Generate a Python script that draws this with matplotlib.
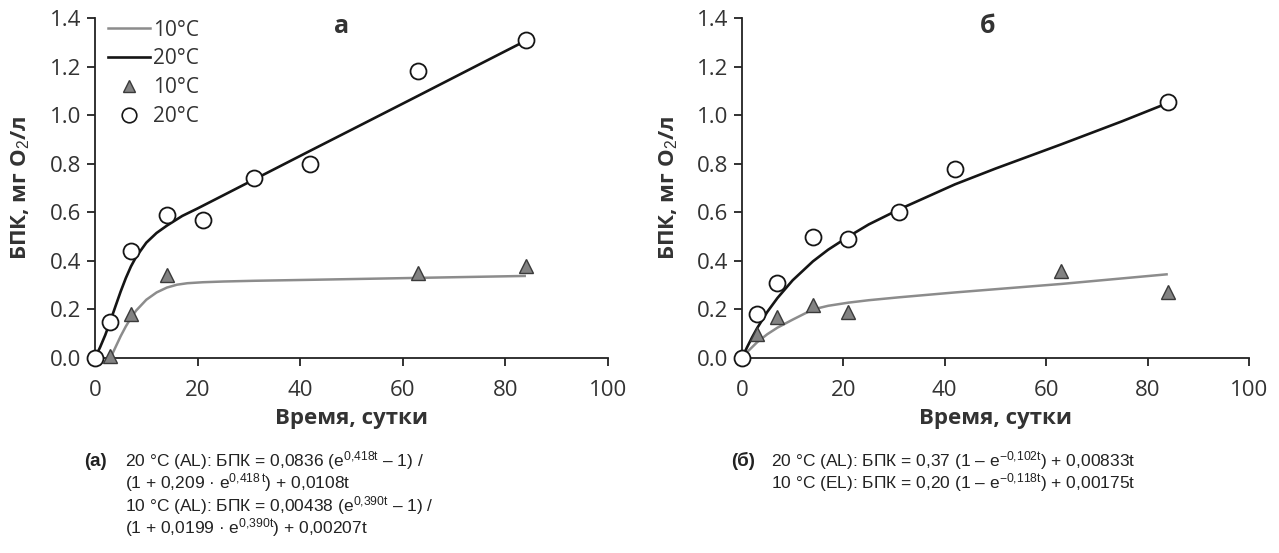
import matplotlib
matplotlib.use("Agg")
import matplotlib.pyplot as plt
from matplotlib.lines import Line2D

plt.rcParams['font.family'] = ['Open Sans', 'DejaVu Sans']
plt.rcParams['mathtext.fontset'] = 'custom'
plt.rcParams['mathtext.rm'] = 'Liberation Sans'
plt.rcParams['mathtext.it'] = 'Liberation Sans'
plt.rcParams['mathtext.bf'] = 'Liberation Sans:bold'

# ---------------- data: panel (а) ----------------
a_t20 = [0, 3, 7, 14, 21, 31, 42, 63, 84]
a_y20 = [0.0, 0.15, 0.44, 0.59, 0.57, 0.74, 0.80, 1.18, 1.31]
a_t10 = [3, 7, 14, 63, 84]
a_y10 = [0.01, 0.18, 0.34, 0.35, 0.38]

a_fit20_t = [0, 1, 2, 3, 4, 5, 6, 7, 8, 10, 12, 14, 17, 20, 25, 31, 42, 50, 63, 75, 84]
a_fit20_y = [0.0, 0.045, 0.095, 0.153, 0.214, 0.274, 0.329, 0.377, 0.416, 0.475, 0.515,
             0.545, 0.585, 0.616, 0.67, 0.735, 0.854, 0.94, 1.08, 1.21, 1.307]
a_fit10_t = [3, 4, 5, 6, 7, 8, 10, 12, 14, 16, 18, 21, 25, 31, 42, 63, 84]
a_fit10_y = [0.0, 0.045, 0.09, 0.13, 0.165, 0.195, 0.24, 0.27, 0.29, 0.302, 0.308,
             0.312, 0.315, 0.318, 0.322, 0.33, 0.338]

# ---------------- data: panel (б) ----------------
b_t20 = [0, 3, 7, 14, 21, 31, 42, 84]
b_y20 = [0.0, 0.18, 0.31, 0.50, 0.49, 0.60, 0.78, 1.055]
b_t10 = [3, 7, 14, 21, 63, 84]
b_y10 = [0.10, 0.17, 0.22, 0.19, 0.36, 0.27]

b_fit20_t = [0, 1, 2, 3, 5, 7, 10, 14, 17, 21, 25, 31, 42, 50, 63, 75, 84]
b_fit20_y = [0.0, 0.044, 0.085, 0.123, 0.19, 0.247, 0.32, 0.398, 0.446, 0.50, 0.55,
             0.612, 0.715, 0.78, 0.88, 0.975, 1.05]
b_fit10_t = [0, 1, 3, 5, 7, 10, 14, 17, 21, 25, 31, 42, 63, 84]
b_fit10_y = [0.0, 0.024, 0.065, 0.098, 0.125, 0.158, 0.20, 0.215, 0.228, 0.238, 0.25,
             0.27, 0.305, 0.345]

xticks = [0, 20, 40, 60, 80, 100]
yticks = [0.0, 0.2, 0.4, 0.6, 0.8, 1.0, 1.2, 1.4]
ylabel = "БПК, мг O$_2$/л"
xlabel = "Время, сутки"
legend_labels = ["10°C", "20°C", "10°C", "20°C"]

formula_a = [
    "20 °C (AL): БПК = 0,0836 ($\\mathrm{e}^{0{,}418t}$ – 1) /",
    "(1 + 0,209 · $\\mathrm{e}^{0{,}418\\,t}$) + 0,0108t",
    "10 °C (AL): БПК = 0,00438 ($\\mathrm{e}^{0{,}390t}$ – 1) /",
    "(1 + 0,0199 · $\\mathrm{e}^{0{,}390t}$) + 0,00207t",
]
formula_b = [
    "20 °C (AL): БПК = 0,37 (1 – $\\mathrm{e}^{-0{,}102t}$) + 0,00833t",
    "10 °C (EL): БПК = 0,20 (1 – $\\mathrm{e}^{-0{,}118t}$) + 0,00175t",
]

BLACK = "#151515"
GRAY = "#8c8c8c"
TRI_FACE = "#828282"
TRI_EDGE = "#3a3a3a"
TXT = "#333333"

fig = plt.figure(figsize=(12.79, 5.53), dpi=100)
ax_a = fig.add_axes([0.0743, 0.3526, 0.4011, 0.6148])
ax_b = fig.add_axes([0.5801, 0.3526, 0.3964, 0.6148])


def style(ax):
    ax.set_xlim(0, 100)
    ax.set_ylim(0, 1.4)
    ax.set_xticks(xticks)
    ax.set_yticks(yticks)
    ax.set_yticklabels([f"{v:.1f}" for v in yticks])
    for s in ("top", "right"):
        ax.spines[s].set_visible(False)
    for s in ("left", "bottom"):
        ax.spines[s].set_linewidth(1.3)
        ax.spines[s].set_color("#222222")
    ax.tick_params(axis="both", direction="out", length=6, width=1.3,
                   colors="#222222", labelsize=16, labelcolor=TXT)
    ax.tick_params(axis="x", pad=10)
    ax.tick_params(axis="y", pad=4)
    ax.set_xlabel(xlabel, fontsize=16, fontweight="bold", color=TXT, labelpad=5)
    ax.set_ylabel(ylabel, fontsize=16, fontweight="bold", color=TXT)
    ax.yaxis.set_label_coords(-0.122, 0.5)


for ax, (t20, y20, t10, y10, ft20, fy20, ft10, fy10) in (
    (ax_a, (a_t20, a_y20, a_t10, a_y10, a_fit20_t, a_fit20_y, a_fit10_t, a_fit10_y)),
    (ax_b, (b_t20, b_y20, b_t10, b_y10, b_fit20_t, b_fit20_y, b_fit10_t, b_fit10_y)),
):
    style(ax)
    ax.plot(ft10, fy10, color=GRAY, lw=1.8, zorder=2, solid_capstyle="butt")
    ax.plot(ft20, fy20, color=BLACK, lw=1.9, zorder=2)
    ax.plot(t10, y10, linestyle="none", marker="^", markersize=10,
            markerfacecolor=TRI_FACE, markeredgecolor=TRI_EDGE, markeredgewidth=1.0,
            zorder=3, clip_on=False)
    ax.plot(t20, y20, linestyle="none", marker="o", markersize=11.5,
            markerfacecolor="white", markeredgecolor=BLACK, markeredgewidth=1.3,
            zorder=4, clip_on=False)

ax_a.text(0.48, 0.955, "а", transform=ax_a.transAxes, fontsize=18, fontweight="bold",
          color=TXT, ha="center", va="baseline")
ax_b.text(0.485, 0.955, "б", transform=ax_b.transAxes, fontsize=18, fontweight="bold",
          color=TXT, ha="center", va="baseline")

handles = [
    Line2D([], [], color=GRAY, lw=1.8),
    Line2D([], [], color=BLACK, lw=1.9),
    Line2D([], [], linestyle="none", marker="^", markersize=9,
           markerfacecolor=TRI_FACE, markeredgecolor=TRI_EDGE),
    Line2D([], [], linestyle="none", marker="o", markersize=10.5,
           markerfacecolor="white", markeredgecolor=BLACK, markeredgewidth=1.2),
]
leg = ax_a.legend(handles, legend_labels, loc="upper left", bbox_to_anchor=(0.01, 1.02),
                  frameon=False, fontsize=15, handlelength=2.0, handletextpad=0.12,
                  labelspacing=0.38, borderaxespad=0.0)
for txt in leg.get_texts():
    txt.set_color(TXT)

# formulas
row_y = [0.1573, 0.1166, 0.0759, 0.0352]
fig.text(0.066, row_y[0], "(а)", fontsize=13.5, fontweight="bold",
         family=["Liberation Sans"], color="#222222", va="baseline")
for y, s in zip(row_y, formula_a):
    fig.text(0.098, y, s, fontsize=12.5, family=["Liberation Sans"],
             color="#222222", va="baseline")

fig.text(0.572, row_y[0], "(б)", fontsize=13.5, fontweight="bold",
         family=["Liberation Sans"], color="#222222", va="baseline")
for y, s in zip(row_y[:2], formula_b):
    fig.text(0.603, y, s, fontsize=12.5, family=["Liberation Sans"],
             color="#222222", va="baseline")

fig.savefig("out.png", dpi=100, facecolor="white")
